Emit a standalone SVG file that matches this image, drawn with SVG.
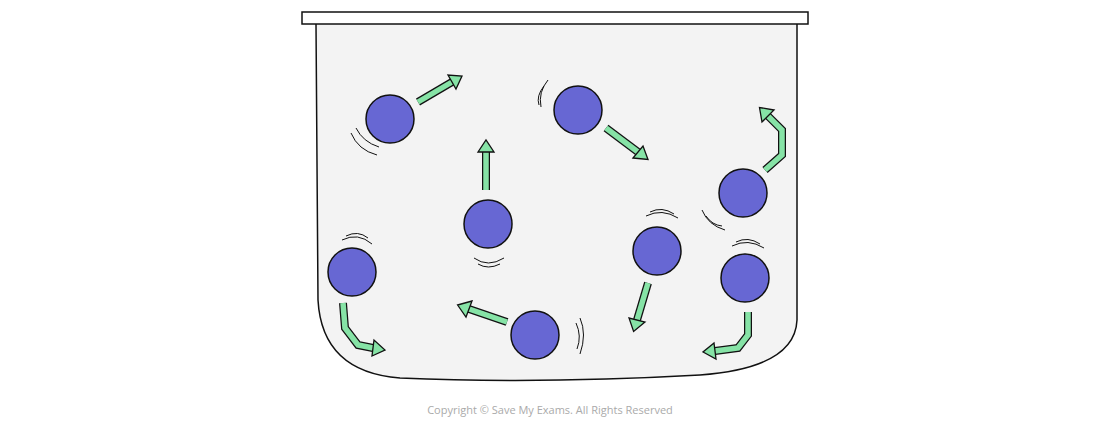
<svg xmlns="http://www.w3.org/2000/svg" width="1100" height="421" viewBox="0 0 1100 421">
<style>
.p{fill:#6767d3;stroke:#111;stroke-width:1.5}
.so{fill:none;stroke:#111;stroke-width:8;stroke-linejoin:miter}
.si{fill:none;stroke:#86e3a6;stroke-width:5.5;stroke-linejoin:miter}
.h{fill:#86e3a6;stroke:#111;stroke-width:1.3;stroke-linejoin:miter}
.w{fill:none;stroke:#111;stroke-width:1}
</style>
<rect width="1100" height="421" fill="#fff"/>
<path d="M316,24 L318,300 Q322,372 400,378 Q540,384 700,375 Q795,368 797,320 L797,24" fill="#f3f3f3" stroke="#111" stroke-width="1.5"/>
<rect x="302" y="12" width="506" height="12" fill="#fff" stroke="#111" stroke-width="1.5"/>
<g id="arrows">
<path class="so" d="M418,102 L452,82"/><path class="si" d="M418,102 L452,82"/><polygon class="h" points="456,89 462,76 448,75"/>
<path class="so" d="M486,190 L486,151"/><path class="si" d="M486,190 L486,151"/><polygon class="h" points="478,152 486,140 494,152"/>
<path class="so" d="M606,128 L638,152"/><path class="si" d="M606,128 L638,152"/><polygon class="h" points="633,158 648,159.5 643,146"/>
<path class="so" d="M765,170 L782,155 L782,130 L768,116"/><path class="si" d="M765,170 L782,155 L782,130 L768,116"/><polygon class="h" points="774,110 759.5,107.5 762,122"/>
<path class="so" d="M343,303 L345,328 L358,345 L373,348"/><path class="si" d="M343,303 L345,328 L358,345 L373,348"/><polygon class="h" points="372,356 385,350 374,340"/>
<path class="so" d="M648,283 L637,320"/><path class="si" d="M648,283 L637,320"/><polygon class="h" points="645,322 633.6,331.5 629,318"/>
<path class="so" d="M748,312 L748,335 L738,348 L715,351"/><path class="si" d="M748,312 L748,335 L738,348 L715,351"/><polygon class="h" points="714,343 703,352 716,359"/>
<path class="so" d="M507,322 L469,309"/><path class="si" d="M507,322 L469,309"/><polygon class="h" points="472,301 457.6,305 466,317"/>
</g>
<g id="particles">
<circle class="p" cx="390" cy="119" r="24"/>
<circle class="p" cx="578" cy="110" r="24"/>
<circle class="p" cx="488" cy="224" r="24"/>
<circle class="p" cx="743" cy="193" r="24"/>
<circle class="p" cx="352" cy="272" r="24"/>
<circle class="p" cx="657" cy="251" r="24"/>
<circle class="p" cx="745" cy="278" r="24"/>
<circle class="p" cx="535" cy="335" r="24"/>
</g>
<g id="wiggles">
<path class="w" d="M351,133 Q358,150 377,155 M356,128 Q363,142 379,147"/>
<path class="w" d="M548,80 Q538,92 541,107 M544,86 Q536,96 539,105"/>
<path class="w" d="M474,258 Q488,268 504,258 M478,264 Q488,270 500,264"/>
<path class="w" d="M702,210 Q708,225 725,230 M706,216 Q712,225 722,226"/>
<path class="w" d="M342,240 Q358,232 372,244 M346,236 Q358,230 368,238"/>
<path class="w" d="M646,216 Q662,208 678,218 M650,212 Q662,206 674,214"/>
<path class="w" d="M732,246 Q748,238 764,248 M736,242 Q748,236 760,244"/>
<path class="w" d="M576,323 Q582,336 577,349 M580,318 Q587,334 580,354"/>
</g>
<text x="550" y="414" font-family="Open Sans, sans-serif" font-size="11" fill="#aaa" text-anchor="middle">Copyright © Save My Exams. All Rights Reserved</text>
</svg>
